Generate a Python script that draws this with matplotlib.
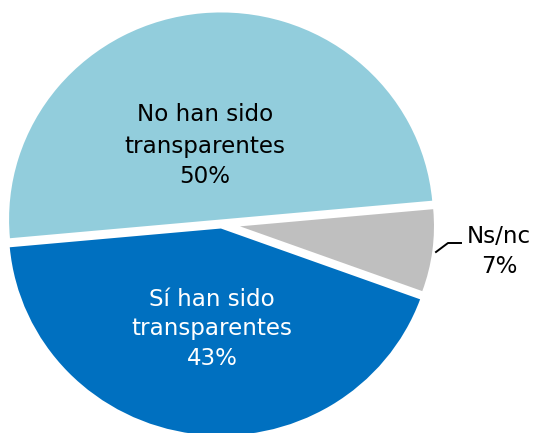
import matplotlib
matplotlib.use('Agg')
import matplotlib.pyplot as plt
from matplotlib.lines import Line2D

# ---- data ----
categories = ['No han sido\ntransparentes', 'Sí han sido\ntransparentes', 'Ns/nc']
values = [50, 43, 7]
colors = ['#92CDDC', '#0070C0', '#BFBFBF']
text_colors = ['#000000', '#FFFFFF', '#000000']

# ---- layout (pixels) ----
W, H = 537, 433
CX, CY, RX, RY = 221.5, 224, 212, 207
explode = [0.022, 0.022, 0.088]

plt.rcParams['font.family'] = ['DejaVu Sans']
fig = plt.figure(figsize=(W / 100, H / 100), dpi=100)
ax = fig.add_axes([0, 0, 1, 1])
wedges, _ = ax.pie(values, explode=explode, colors=colors, startangle=5.2,
                   counterclock=True, radius=1,
                   wedgeprops=dict(linewidth=0))
ax.set_aspect('auto')
ax.set_xlim(-CX / RX, (W - CX) / RX)
ax.set_ylim(-(H - CY) / RY, CY / RY)
ax.axis('off')
wedges[2].set_radius(0.915)


def fx(x):
    return x / W


def fy(y):
    return 1 - y / H


# label placements: (center x, list of baselines)
placements = [(205, [121, 153, 183]), (212, [306, 335, 365]), (499, [243, 273])]
fs = 16.6
for cat, val, tc, (x0, bls) in zip(categories, values, text_colors, placements):
    lines = cat.split('\n') + [f'{val}%']
    for ln, b in zip(lines, bls):
        fig.text(fx(x0), fy(b), ln, ha='center', va='baseline',
                 fontsize=fs, color=tc)

fig.add_artist(Line2D([fx(436), fx(448), fx(461)], [fy(252), fy(243), fy(243)],
                      color='black', lw=1.4))

fig.savefig('out.png', dpi=100)
